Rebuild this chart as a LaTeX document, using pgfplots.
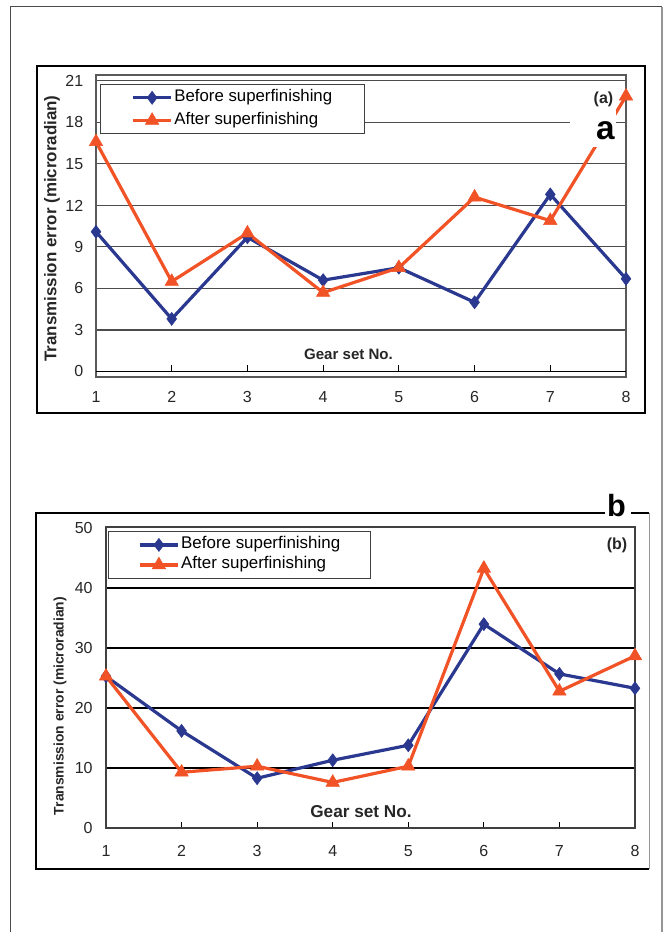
\documentclass[border=0pt]{standalone}
\usepackage{fontspec}
\setmainfont{Liberation Sans}
\usepackage{pgfplots}
\pgfplotsset{compat=1.18}
\definecolor{cblue}{RGB}{42,56,143}
\definecolor{cred}{RGB}{241,82,38}
\definecolor{bgray}{RGB}{150,150,150}

\pgfplotsset{
  common/.style={
    scale only axis, clip=false,
    xmin=1, xmax=8, xtick={1,...,8},
    /pgf/number format/assume math mode=true,
    ticklabel style={font=\fontsize{12}{13}\selectfont, text=black!85},
    legend cell align=left,
    legend image code/.code={\draw[mark repeat=2,mark phase=2,##1] plot coordinates {(0pt,0pt) (14.5pt,0pt) (29pt,0pt)};},
  },
  bl/.style={cblue, line width=2.4pt, mark=diamond*, mark size=4.9pt, mark options={solid, line width=0.4pt, fill=cblue}},
  rd/.style={cred, line width=2.4pt, mark=triangle*, mark size=5.8pt, mark options={solid, line width=0.4pt, fill=cred}},
}

\begin{document}
\begin{tikzpicture}[x=0.75pt, y=-0.75pt]
\useasboundingbox (0,0) rectangle (666,932);

% ---------------- chart (a) ----------------
\begin{axis}[common,
  at={(72pt,-282.75pt)}, anchor=south west,
  width=397.5pt, height=226.5pt,
  ymin=-0.4, ymax=21.43,
  ytick={3,6,...,21}, extra y ticks={0},
  major tick length=0pt,
  ymajorgrids, grid style={black!70, line width=0.8pt},
  extra y tick style={major grid style={black, line width=1.3pt}},
  axis line style={black!65, line width=1pt},
  xticklabel style={yshift=-7.5pt}, yticklabel style={xshift=-6pt},
  legend style={at={(0.0075,0.970)}, anchor=north west, draw=black!75, line width=0.8pt,
    inner xsep=23pt, inner ysep=2.9pt, row sep=3pt,
    font=\fontsize{12.6}{14}\selectfont,
    nodes={inner sep=1pt, text height=9pt, text depth=3pt}},
]
\addplot[bl] coordinates {(1,10.1) (2,3.8) (3,9.7) (4,6.6) (5,7.5) (6,5.0) (7,12.8) (8,6.7)};
\addlegendentry{Before superfinishing}
\addplot[rd] coordinates {(1,16.6) (2,6.5) (3,10.0) (4,5.7) (5,7.5) (6,12.6) (7,10.9) (8,19.9)};
\addlegendentry{After superfinishing}
\pgfplotsinvokeforeach{2,...,7}{\draw[black, line width=0.8pt] (axis cs:#1,0) -- ++(0pt,4.5pt);}
\end{axis}

% ---------------- chart (b) ----------------
\begin{axis}[common,
  at={(79.5pt,-621pt)}, anchor=south west,
  width=396.75pt, height=225.75pt,
  ymin=0, ymax=50.2,
  ytick={10,20,30,40}, extra y ticks={0,50},
  extra y tick style={major grid style={draw=none}},
  major tick length=4.5pt, tick align=inside, xtick pos=left,
  ytick style={draw=none}, xtick style={black, line width=0.8pt},
  ymajorgrids, grid style={black, line width=1.5pt},
  axis line style={black!75, line width=1.3pt},
  xticklabel style={yshift=-9.5pt}, yticklabel style={xshift=-6.5pt},
  legend style={at={(0.004,0.987)}, anchor=north west, draw=black!75, line width=0.8pt,
    inner xsep=22pt, inner ysep=3.1pt, row sep=1pt,
    font=\fontsize{12.7}{14}\selectfont,
    nodes={inner sep=1pt, text height=9pt, text depth=3pt}},
]
\addplot[bl] coordinates {(1,25.3) (2,16.2) (3,8.3) (4,11.3) (5,13.8) (6,34.0) (7,25.7) (8,23.3)};
\addlegendentry{Before superfinishing}
\addplot[rd] coordinates {(1,25.3) (2,9.3) (3,10.3) (4,7.6) (5,10.3) (6,43.3) (7,22.8) (8,28.7)};
\addlegendentry{After superfinishing}
\end{axis}

% ---------------- labels ----------------
\node[rotate=90, font=\bfseries\fontsize{12.7}{14}\selectfont, text=black!85] at (52,228.5) {Transmission error (microradian)};
\node[font=\bfseries\fontsize{11.3}{13}\selectfont, text=black!85] at (348.5,354) {Gear set No.};
\node[font=\bfseries\fontsize{12}{13}\selectfont, text=black!85] at (603.5,99.5) {(a)};

\node[rotate=90, font=\bfseries\fontsize{10.4}{12}\selectfont, text=black!85] at (60,706) {Transmission error (microradian)};
\node[font=\bfseries\fontsize{12.9}{14}\selectfont, text=black!85] at (361,812) {Gear set No.};
\node[font=\bfseries\fontsize{12}{13}\selectfont, text=black!85] at (617,545) {(b)};

% ---------------- frames ----------------
\draw[black, line width=1.5pt] (37,66) rectangle (645,413);
\draw[black, line width=1.5pt] (605,513) -- (36,513) -- (36,869) -- (649,869);
\draw[black, line width=1.5pt] (631,513) -- (649,513);
\draw[bgray, line width=0.75pt] (649,513) -- (649,869);
\draw[black!70, line width=0.8pt] (10.5,932) -- (10.5,6.5) -- (662,6.5);
\draw[bgray, line width=1.5pt] (662,6.5) -- (662,932);

% ---------------- panel letters ----------------
\fill[white] (570,110) rectangle (616,147);
\node[font=\bfseries\fontsize{25}{25}\selectfont, anchor=base, inner sep=0pt] at (605.5,139) {a};
\node[font=\bfseries\fontsize{23}{23}\selectfont, anchor=base, inner sep=0pt] at (616.5,516) {b};
\end{tikzpicture}
\end{document}
